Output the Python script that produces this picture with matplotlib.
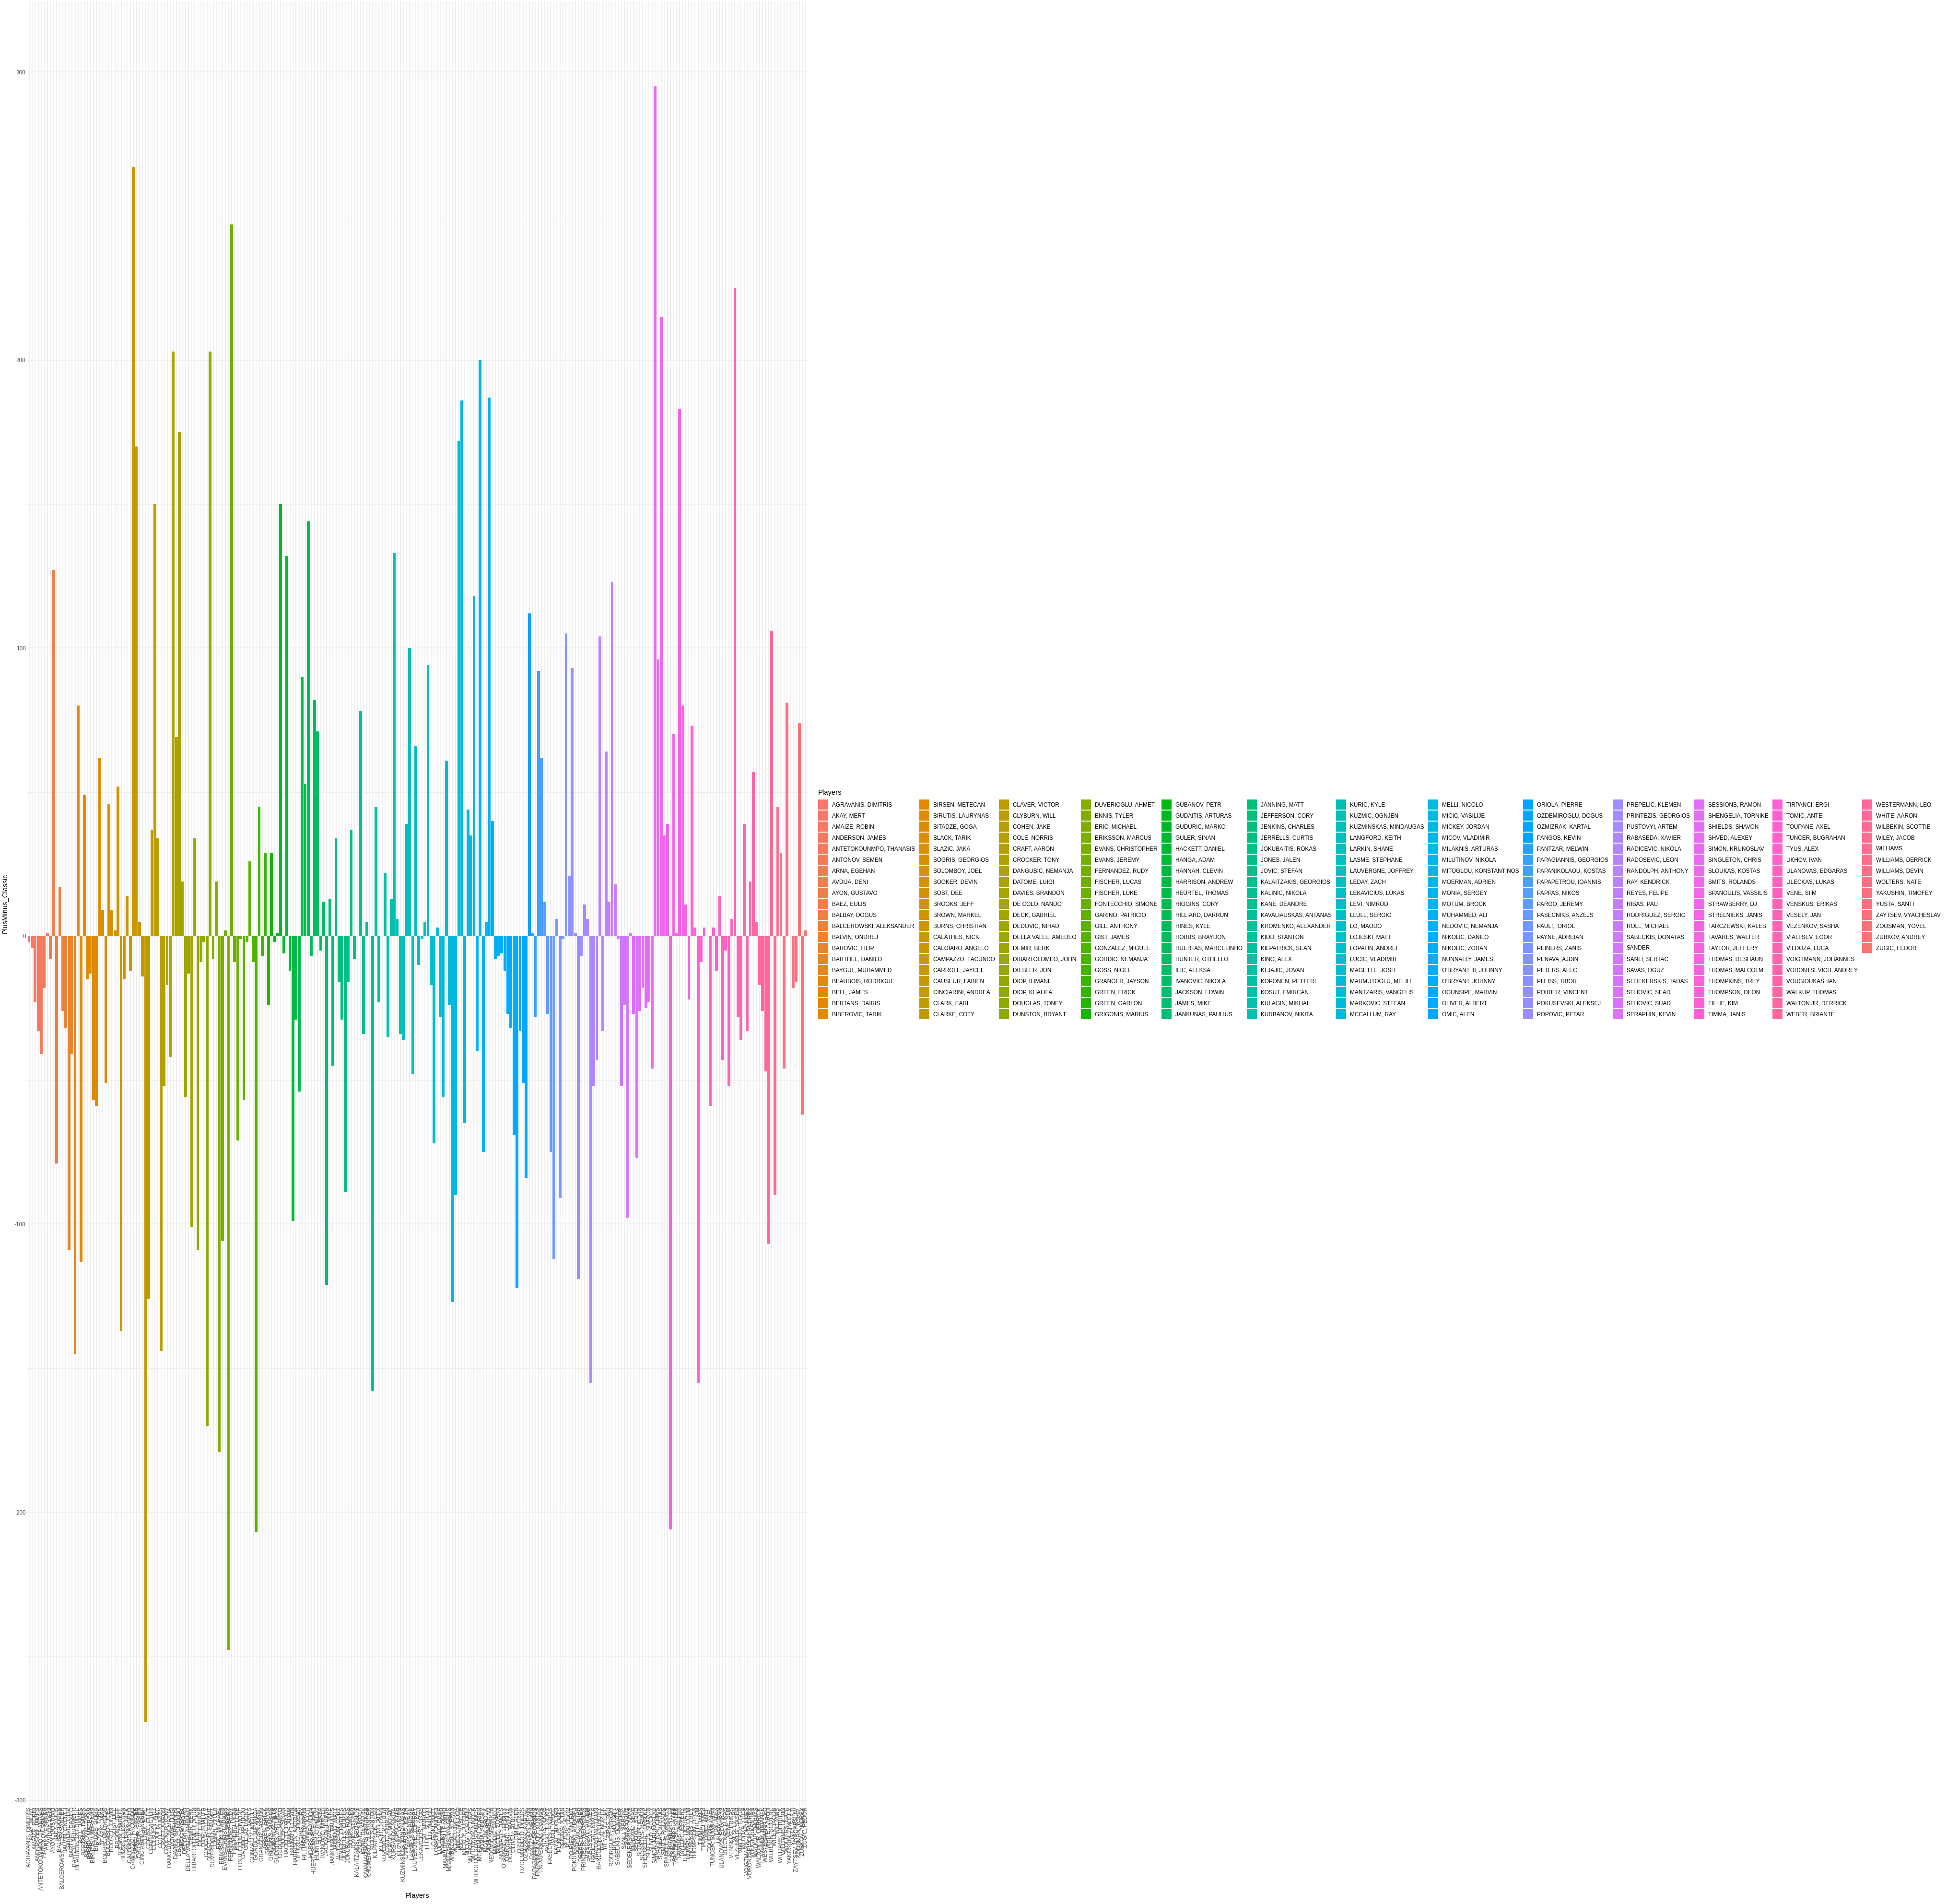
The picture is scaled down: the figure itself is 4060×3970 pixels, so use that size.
import numpy as np
import matplotlib
matplotlib.use("Agg")
import matplotlib.pyplot as plt
from matplotlib.patches import Patch

plt.rcParams['font.family'] = ['Liberation Sans', 'DejaVu Sans']

# Players (alphabetical, same order as the x axis and the legend)
players = [
    "AGRAVANIS, DIMITRIS", "AKAY, MERT", "AMAIZE, ROBIN", "ANDERSON, JAMES", "ANTETOKOUNMPO, THANASIS",
    "ANTONOV, SEMEN", "ARNA, EGEHAN", "AVDIJA, DENI", "AYON, GUSTAVO", "BAEZ, EULIS",
    "BALBAY, DOGUS", "BALCEROWSKI, ALEKSANDER", "BALVIN, ONDREJ", "BAROVIC, FILIP", "BARTHEL, DANILO",
    "BAYGUL, MUHAMMED", "BEAUBOIS, RODRIGUE", "BELL, JAMES", "BERTANS, DAIRIS", "BIBEROVIC, TARIK",
    "BIRSEN, METECAN", "BIRUTIS, LAURYNAS", "BITADZE, GOGA", "BLACK, TARIK", "BLAZIC, JAKA",
    "BOGRIS, GEORGIOS", "BOLOMBOY, JOEL", "BOOKER, DEVIN", "BOST, DEE", "BROOKS, JEFF",
    "BROWN, MARKEL", "BURNS, CHRISTIAN", "CALATHES, NICK", "CALOIARO, ANGELO", "CAMPAZZO, FACUNDO",
    "CARROLL, JAYCEE", "CAUSEUR, FABIEN", "CINCIARINI, ANDREA", "CLARK, EARL", "CLARKE, COTY",
    "CLAVER, VICTOR", "CLYBURN, WILL", "COHEN, JAKE", "COLE, NORRIS", "CRAFT, AARON",
    "CROCKER, TONY", "DANGUBIC, NEMANJA", "DATOME, LUIGI", "DAVIES, BRANDON", "DE COLO, NANDO",
    "DECK, GABRIEL", "DEDOVIC, NIHAD", "DELLA VALLE, AMEDEO", "DEMIR, BERK", "DIBARTOLOMEO, JOHN",
    "DIEBLER, JON", "DIOP, ILIMANE", "DIOP, KHALIFA", "DOUGLAS, TONEY", "DUNSTON, BRYANT",
    "DUVERIOGLU, AHMET", "ENNIS, TYLER", "ERIC, MICHAEL", "ERIKSSON, MARCUS", "EVANS, CHRISTOPHER",
    "EVANS, JEREMY", "FERNANDEZ, RUDY", "FISCHER, LUCAS", "FISCHER, LUKE", "FONTECCHIO, SIMONE",
    "GARINO, PATRICIO", "GILL, ANTHONY", "GIST, JAMES", "GONZALEZ, MIGUEL", "GORDIC, NEMANJA",
    "GOSS, NIGEL", "GRANGER, JAYSON", "GREEN, ERICK", "GREEN, GARLON", "GRIGONIS, MARIUS",
    "GUBANOV, PETR", "GUDAITIS, ARTURAS", "GUDURIC, MARKO", "GULER, SINAN", "HACKETT, DANIEL",
    "HANGA, ADAM", "HANNAH, CLEVIN", "HARRISON, ANDREW", "HEURTEL, THOMAS", "HIGGINS, CORY",
    "HILLIARD, DARRUN", "HINES, KYLE", "HOBBS, BRAYDON", "HUERTAS, MARCELINHO", "HUNTER, OTHELLO",
    "ILIC, ALEKSA", "IVANOVIC, NIKOLA", "JACKSON, EDWIN", "JAMES, MIKE", "JANKUNAS, PAULIUS",
    "JANNING, MATT", "JEFFERSON, CORY", "JENKINS, CHARLES", "JERRELLS, CURTIS", "JOKUBAITIS, ROKAS",
    "JONES, JALEN", "JOVIC, STEFAN", "KALAITZAKIS, GEORGIOS", "KALINIC, NIKOLA", "KANE, DEANDRE",
    "KAVALIAUSKAS, ANTANAS", "KHOMENKO, ALEXANDER", "KIDD, STANTON", "KILPATRICK, SEAN", "KING, ALEX",
    "KLJAJIC, JOVAN", "KOPONEN, PETTERI", "KOSUT, EMIRCAN", "KULAGIN, MIKHAIL", "KURBANOV, NIKITA",
    "KURIC, KYLE", "KUZMIC, OGNJEN", "KUZMINSKAS, MINDAUGAS", "LANGFORD, KEITH", "LARKIN, SHANE",
    "LASME, STEPHANE", "LAUVERGNE, JOFFREY", "LEDAY, ZACH", "LEKAVICIUS, LUKAS", "LEVI, NIMROD",
    "LLULL, SERGIO", "LO, MAODO", "LOJESKI, MATT", "LOPATIN, ANDREI", "LUCIC, VLADIMIR",
    "MAGETTE, JOSH", "MAHMUTOGLU, MELIH", "MANTZARIS, VANGELIS", "MARKOVIC, STEFAN", "MCCALLUM, RAY",
    "MELLI, NICOLO", "MICIC, VASILIJE", "MICKEY, JORDAN", "MICOV, VLADIMIR", "MILAKNIS, ARTURAS",
    "MILUTINOV, NIKOLA", "MITOGLOU, KONSTANTINOS", "MOERMAN, ADRIEN", "MONIA, SERGEY", "MOTUM, BROCK",
    "MUHAMMED, ALI", "NEDOVIC, NEMANJA", "NIKOLIC, DANILO", "NIKOLIC, ZORAN", "NUNNALLY, JAMES",
    "O'BRYANT III, JOHNNY", "O'BRYANT, JOHNNY", "OGUNSIPE, MARVIN", "OLIVER, ALBERT", "OMIC, ALEN",
    "ORIOLA, PIERRE", "OZDEMIROGLU, DOGUS", "OZMIZRAK, KARTAL", "PANGOS, KEVIN", "PANTZAR, MELWIN",
    "PAPAGIANNIS, GEORGIOS", "PAPANIKOLAOU, KOSTAS", "PAPAPETROU, IOANNIS", "PAPPAS, NIKOS", "PARGO, JEREMY",
    "PASECNIKS, ANZEJS", "PAULI,  ORIOL", "PAYNE, ADREIAN", "PEINERS, ZANIS", "PENAVA, AJDIN",
    "PETERS, ALEC", "PLEISS, TIBOR", "POIRIER, VINCENT", "POKUSEVSKI, ALEKSEJ", "POPOVIC, PETAR",
    "PREPELIC, KLEMEN", "PRINTEZIS, GEORGIOS", "PUSTOVYI, ARTEM", "RABASEDA, XAVIER", "RADICEVIC, NIKOLA",
    "RADOSEVIC, LEON", "RANDOLPH, ANTHONY", "RAY, KENDRICK", "REYES, FELIPE", "RIBAS, PAU",
    "RODRIGUEZ, SERGIO", "ROLL, MICHAEL", "SABECKIS, DONATAS", "SANDER", "SANLI, SERTAC",
    "SAVAS, OGUZ", "SEDEKERSKIS, TADAS", "SEHOVIC, SEAD", "SEHOVIC, SUAD", "SERAPHIN, KEVIN",
    "SESSIONS, RAMON", "SHENGELIA, TORNIKE", "SHIELDS, SHAVON", "SHVED, ALEXEY", "SIMON, KRUNOSLAV",
    "SINGLETON, CHRIS", "SLOUKAS, KOSTAS", "SMITS, ROLANDS", "SPANOULIS, VASSILIS", "STRAWBERRY, DJ",
    "STRELNIEKS, JANIS", "TARCZEWSKI, KALEB", "TAVARES, WALTER", "TAYLOR, JEFFERY", "THOMAS, DESHAUN",
    "THOMAS, MALCOLM", "THOMPKINS, TREY", "THOMPSON, DEON", "TILLIE, KIM", "TIMMA, JANIS",
    "TIRPANCI, ERGI", "TOMIC, ANTE", "TOUPANE, AXEL", "TUNCER, BUGRAHAN", "TYUS, ALEX",
    "UKHOV, IVAN", "ULANOVAS, EDGARAS", "ULECKAS, LUKAS", "VENE, SIIM", "VENSKUS, ERIKAS",
    "VESELY, JAN", "VEZENKOV, SASHA", "VIALTSEV, EGOR", "VILDOZA, LUCA", "VOIGTMANN, JOHANNES",
    "VORONTSEVICH, ANDREY", "VOUGIOUKAS, IAN", "WALKUP, THOMAS", "WALTON JR, DERRICK", "WEBER, BRIANTE",
    "WESTERMANN, LEO", "WHITE, AARON", "WILBEKIN, SCOTTIE", "WILEY, JACOB", "WILLIAMS",
    "WILLIAMS, DERRICK", "WILLIAMS, DEVIN", "WOLTERS, NATE", "YAKUSHIN, TIMOFEY", "YUSTA, SANTI",
    "ZAYTSEV, VYACHESLAV", "ZOOSMAN, YOVEL", "ZUBKOV, ANDREY", "ZUGIC, FEDOR",
]

# PlusMinus_Classic per player
plus_minus = [
    -2, -4, -23, -33, -41, -18, 1, -8, 127, -79,
    17, -26, -32, -109, -41, -145, 80, -113, 49, -15,
    -13, -57, -59, 62, 9, -51, 46, 9, 2, 52,
    -137, -15, 14, -12, 267, 170, 5, -14, -273, -126,
    37, 150, 34, -144, -52, -17, -42, 203, 69, 175,
    19, -56, -13, -101, 34, -109, -9, -2, -170, 203,
    -8, 19, -179, -106, 2, -248, 247, -9, -71, -1,
    -57, -2, 26, -9, -207, 45, -7, 29, -24, 29,
    -2, 1, 150, -6, 132, -12, -99, -29, -54, 90,
    53, 144, -7, 82, 71, -5, 12, -121, 13, -45,
    34, -16, -29, -89, -16, 37, -8, 0, 78, -34,
    5, 0, -158, 45, -23, 0, 22, -35, 13, 133,
    6, -34, -36, 39, 100, -48, 66, -10, -1, 5,
    94, -17, -72, 3, -28, -56, 61, -24, -127, -90,
    172, 186, -65, 44, 35, 118, -40, 200, -75, 5,
    187, 40, -8, -7, -6, -12, -27, -32, -69, -122,
    -33, -51, -84, 112, 1, -28, 92, 62, 12, -27,
    -75, -112, 6, -91, -1, 105, 21, 93, 1, -119,
    -7, 11, 6, -155, -52, -43, 104, -33, 64, 12,
    123, 18, -1, -52, -24, -98, 1, -27, -77, -26,
    -18, -25, -23, -46, 295, 96, 215, 35, 39, -206,
    70, 1, 183, 80, 11, -22, 73, 3, -155, -9,
    3, 0, -59, 3, -12, 14, -43, -5, -52, 6,
    225, -28, -36, 39, -33, 19, 57, 5, -17, -26,
    -47, -107, 106, -90, 45, 29, -46, 81, 0, -18,
    -16, 74, -62, 2,
]

y_major = [-300, -200, -100, 0, 100, 200, 300]
y_minor = [-250, -150, -50, 50, 150, 250]


def hue_pal(n, h0=15, c=100, l=65):
    # ggplot2 default discrete palette: polar LUV -> sRGB
    hues = np.linspace(h0, h0 + 360, n + 1)[:n]
    h = np.deg2rad(hues)
    U = c * np.cos(h)
    V = c * np.sin(h)
    xn, yn, zn = 95.047, 100.0, 108.883
    un = 4 * xn / (xn + 15 * yn + 3 * zn)
    vn = 9 * yn / (xn + 15 * yn + 3 * zn)
    Y = yn * ((l + 16) / 116) ** 3
    u = U / (13 * l) + un
    v = V / (13 * l) + vn
    X = 9.0 * Y * u / (4 * v)
    Z = -X / 3 - 5 * Y + 3 * Y / v
    X, Y, Z = X / 100, Y / 100, Z / 100
    r = 3.240479 * X - 1.537150 * Y - 0.498535 * Z
    g = -0.969256 * X + 1.875992 * Y + 0.041556 * Z
    b = 0.055648 * X - 0.204043 * Y + 1.057311 * Z

    def gam(t):
        return np.where(t > 0.00304, 1.055 * np.power(np.clip(t, 0, None), 1 / 2.4) - 0.055, 12.92 * t)

    rgb = np.stack([gam(r), gam(g), gam(b)], axis=1)
    return np.clip(rgb, 0, 1)


colors = hue_pal(len(players))
x = np.arange(len(players))

W, H = 4060, 3970
fig = plt.figure(figsize=(W / 100, H / 100), dpi=100)
fig.patch.set_facecolor('white')

# panel position in pixels (left, top, right, bottom)
pl, pt, pr, pb = 56.7, 3, 1683.5, 3765
ax = fig.add_axes([pl / W, 1 - pb / H, (pr - pl) / W, (pb - pt) / H])

ax.bar(x, plus_minus, width=0.9, color=colors, zorder=2)

ax.set_xlim(-0.6, len(players) - 0.4)
ax.set_ylim(-301.9, 324.5)

# theme_minimal look
for s in ax.spines.values():
    s.set_visible(False)
ax.set_axisbelow(True)
ax.set_yticks(y_major)
ax.set_yticklabels([str(v) for v in y_major])
ax.set_yticks(y_minor, minor=True)
ax.set_xticks(x)
ax.set_xticklabels(players, rotation=90)
ax.tick_params(axis='both', which='both', length=0, labelsize=8.5, labelcolor='#4D4D4D', pad=2.2)
ax.grid(which='major', axis='both', color='#EBEBEB', linewidth=1.1)
ax.yaxis.grid(which='minor', color='#EBEBEB', linewidth=0.6)

ax.set_ylabel('PlusMinus_Classic', fontsize=10.6)
ax.yaxis.set_label_coords(-0.0246, 0.5)
ax.set_xlabel('Players', fontsize=10.6, va='top')
ax.xaxis.set_label_coords(0.5, -0.0481)

# Legend: 13 columns of 20, filled column by column (pad the last column)
handles = [Patch(facecolor=colors[i], edgecolor='none') for i in range(len(players))]
labels = list(players)
n_pad = 13 * 20 - len(players)
for _ in range(n_pad):
    handles.append(Patch(facecolor='none', edgecolor='none'))
    labels.append('')

leg = fig.legend(handles, labels, ncol=13, loc='upper left',
                 bbox_to_anchor=(1706 / W, 1 - 1667 / H),
                 frameon=False, fontsize=8.5,
                 handlelength=1.78, handleheight=2.36,
                 labelspacing=0.17, handletextpad=0.68, columnspacing=0.74,
                 borderpad=0, borderaxespad=0)

# legend title, left aligned above the keys
fig.text(1706 / W, 1 - 1657 / H, 'Players', fontsize=10.6, ha='left', va='baseline')

fig.savefig('out.png', dpi=100, facecolor='white')
